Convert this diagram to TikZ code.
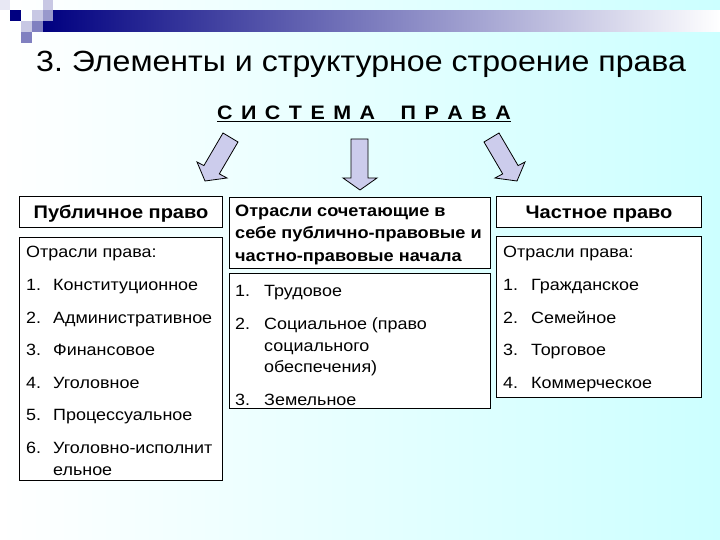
\documentclass[tikz,border=0pt]{standalone}
\usepackage{fontspec}
\setmainfont{Liberation Sans}[FakeStretch=1.1]
\frenchspacing
\definecolor{navy}{RGB}{0,0,128}
\definecolor{arrowfill}{RGB}{204,204,236}
\definecolor{bgcyan}{RGB}{204,255,255}
\definecolor{sqA}{RGB}{232,232,244}
\definecolor{sqB}{RGB}{200,200,228}
\definecolor{sqC}{RGB}{153,153,204}
\definecolor{sqD}{RGB}{128,128,192}
\begin{document}
\begin{tikzpicture}[x=1pt,y=-1pt,
  box/.style={draw=black, line width=1pt, fill=white, inner sep=0pt},
  item/.style={anchor=base west, inner sep=0pt, font=\fontsize{16.3}{19}\selectfont},
  headtxt/.style={anchor=base west, inner sep=0pt, font=\bfseries\fontsize{16.5}{19}\selectfont},
  head/.style={box, font=\bfseries\fontsize{18.2}{21}\selectfont, text height=13pt, text depth=0pt},
  blockarrow/.style={draw=black, line width=0.8pt, fill=arrowfill, line join=miter}]
\useasboundingbox (0,0) rectangle (720,540);
\shade[left color=white, right color=bgcyan] (0,0) rectangle (720,540);
% decoration
\shade[left color=navy, right color=white] (43,11) rectangle (720,32);
\fill[sqA] (0,0) rectangle (10,10);
\fill[navy] (10,10) rectangle (21,21);
\fill[sqB] (32,10) rectangle (43,21);
\fill[sqB] (43,0) rectangle (53,10);
\fill[sqC] (43,10) rectangle (53,21);
\fill[sqB] (21,21) rectangle (32,32);
\fill[sqD] (32,21) rectangle (43,32);
\fill[sqD] (21,32) rectangle (32,43);
% title
\node[anchor=base west, inner sep=0pt, font=\fontsize{29.2}{34}\selectfont] (title) at (36,72) {3. Элементы и структурное строение права};
\node[anchor=base, inner sep=0pt, font=\bfseries\fontsize{19.5}{22}\selectfont] (sys) at (364,120) {\spaceskip=8.5pt\relax\underline{С И С Т Е М А \ \ П Р А В А}};
% arrows
\draw[blockarrow] (223,133) -- (238,142) -- (219.3,173.9) -- (227,178) -- (205,181) -- (197,162) -- (203.9,165.6) -- cycle;
\draw[blockarrow] (351,139) -- (368,139) -- (368,178) -- (377,178) -- (360,190) -- (343,178) -- (351,178) -- cycle;
\draw[blockarrow] (499,133) -- (484,142) -- (502.7,173.9) -- (495,178) -- (517,181) -- (525,162) -- (518.1,165.6) -- cycle;
% headers
\node[head, minimum width=203pt, minimum height=31pt, anchor=north west] (pub) at (19,196) {Публичное право};
\node[box, minimum width=261pt, minimum height=71pt, anchor=north west] (mix) at (229,197) {};
\node[head, minimum width=205pt, minimum height=31pt, anchor=north west] (priv) at (496,196) {Частное право};
\node[headtxt] (mixa) at (235,217) {Отрасли сочетающие в};
\node[headtxt] (mixb) at (235,239) {себе публично-правовые и};
\node[headtxt] (mixc) at (235,261) {частно-правовые начала};
% list boxes
\node[box, minimum width=203pt, minimum height=243pt, anchor=north west] (publist) at (19,237) {};
\node[box, minimum width=261pt, minimum height=135pt, anchor=north west] (mixlist) at (229,273) {};
\node[box, minimum width=205pt, minimum height=161pt, anchor=north west] (privlist) at (496,236) {};
% left list
\node[item] (l0) at (26,257) {Отрасли права:};
\node[item] (l1n) at (26,290) {1.};  \node[item] (l1) at (53,290) {Конституционное};
\node[item] (l2n) at (26,323) {2.};  \node[item] (l2) at (53,323) {Административное};
\node[item] (l3n) at (26,355) {3.};  \node[item] (l3) at (53,355) {Финансовое};
\node[item] (l4n) at (26,388) {4.};  \node[item] (l4) at (53,388) {Уголовное};
\node[item] (l5n) at (26,420) {5.};  \node[item] (l5) at (53,420) {Процессуальное};
\node[item] (l6n) at (26,453) {6.};  \node[item] (l6) at (53,453) {Уголовно-исполнит};
\node[item] (l6b) at (53,475) {ельное};
% middle list
\node[item] (m1n) at (235,296) {1.}; \node[item] (m1) at (264,296) {Трудовое};
\node[item] (m2n) at (235,329) {2.}; \node[item] (m2) at (264,329) {Социальное (право};
\node[item] (m2b) at (264,351) {социального};
\node[item] (m2c) at (264,372) {обеспечения)};
\node[item] (m3n) at (235,405) {3.}; \node[item] (m3) at (264,405) {Земельное};
% right list
\node[item] (r0) at (503,257) {Отрасли права:};
\node[item] (r1n) at (503,290) {1.}; \node[item] (r1) at (531,290) {Гражданское};
\node[item] (r2n) at (503,323) {2.}; \node[item] (r2) at (531,323) {Семейное};
\node[item] (r3n) at (503,355) {3.}; \node[item] (r3) at (531,355) {Торговое};
\node[item] (r4n) at (503,388) {4.}; \node[item] (r4) at (531,388) {Коммерческое};
\end{tikzpicture}
\end{document}
